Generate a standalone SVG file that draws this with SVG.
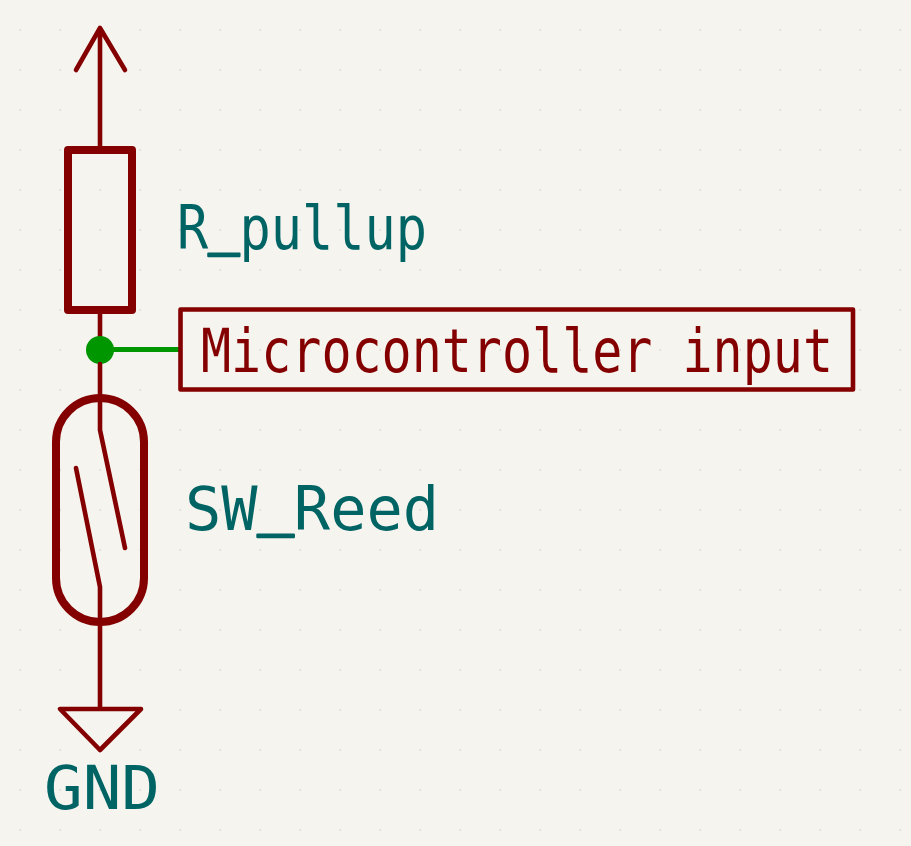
<svg xmlns="http://www.w3.org/2000/svg" width="911" height="846" viewBox="0 0 911 846">
<style>
.sym{fill:none;stroke:#840000;stroke-linecap:round;stroke-linejoin:round}
.thin{stroke-width:4.6}
.thick{stroke-width:8}
.t{font-family:"DejaVu Sans Mono","Liberation Mono",monospace;font-size:60px}
.teal{fill:#006464}
.red{fill:#840000}
.u{stroke:#006464;stroke-width:2.4px;stroke-linejoin:round}
</style>
<defs>
<pattern id="g" x="0" y="0" width="40" height="40" patternUnits="userSpaceOnUse" patternTransform="translate(0 9.7)"><circle cx="20.2" cy="20.2" r="0.7" fill="#bdbdb8"/></pattern>
</defs>
<rect width="911" height="846" fill="#f5f4ef"/>
<rect id="grid" width="911" height="846" fill="url(#g)"/>
<g id="connectors">
<path d="M100 349.500H180" fill="none" stroke="#009600" stroke-width="5"/>
</g>
<g id="power">
<path class="sym thin" d="M100 150V28M76 70L100 28L125 70"/>
</g>
<g id="R_pullup">
<path class="sym thin" d="M100 310V350"/>
<rect class="sym thick" x="68" y="150" width="64" height="160"/>
<text class="t teal" x="177" y="249" textLength="250" lengthAdjust="spacingAndGlyphs">R<tspan class="u" dy="-7">_</tspan><tspan dy="7">pullup</tspan></text>
</g>
<g id="junction"><circle cx="100" cy="350" r="14" fill="#009600"/></g>
<g id="input_label">
<rect class="sym thin" x="180.500" y="309.500" width="672.500" height="80"/>
<text class="t red" x="201" y="372" textLength="632" lengthAdjust="spacingAndGlyphs">Microcontroller input</text>
</g>
<g id="SW_Reed">
<path class="sym thin" d="M100 364V430L125 548M76 468L100 587V708"/>
<rect class="sym thick" x="56" y="398" width="88" height="224" rx="44" ry="44"/>
<text class="t teal" x="185" y="530" textLength="254" lengthAdjust="spacingAndGlyphs">SW<tspan class="u" dy="-7">_</tspan><tspan dy="7">Reed</tspan></text>
</g>
<g id="GND">
<path class="sym thin" d="M60 709H141L100 750Z"/>
<text class="t teal" x="44" y="809" textLength="116" lengthAdjust="spacingAndGlyphs">GND</text>
</g>
</svg>
